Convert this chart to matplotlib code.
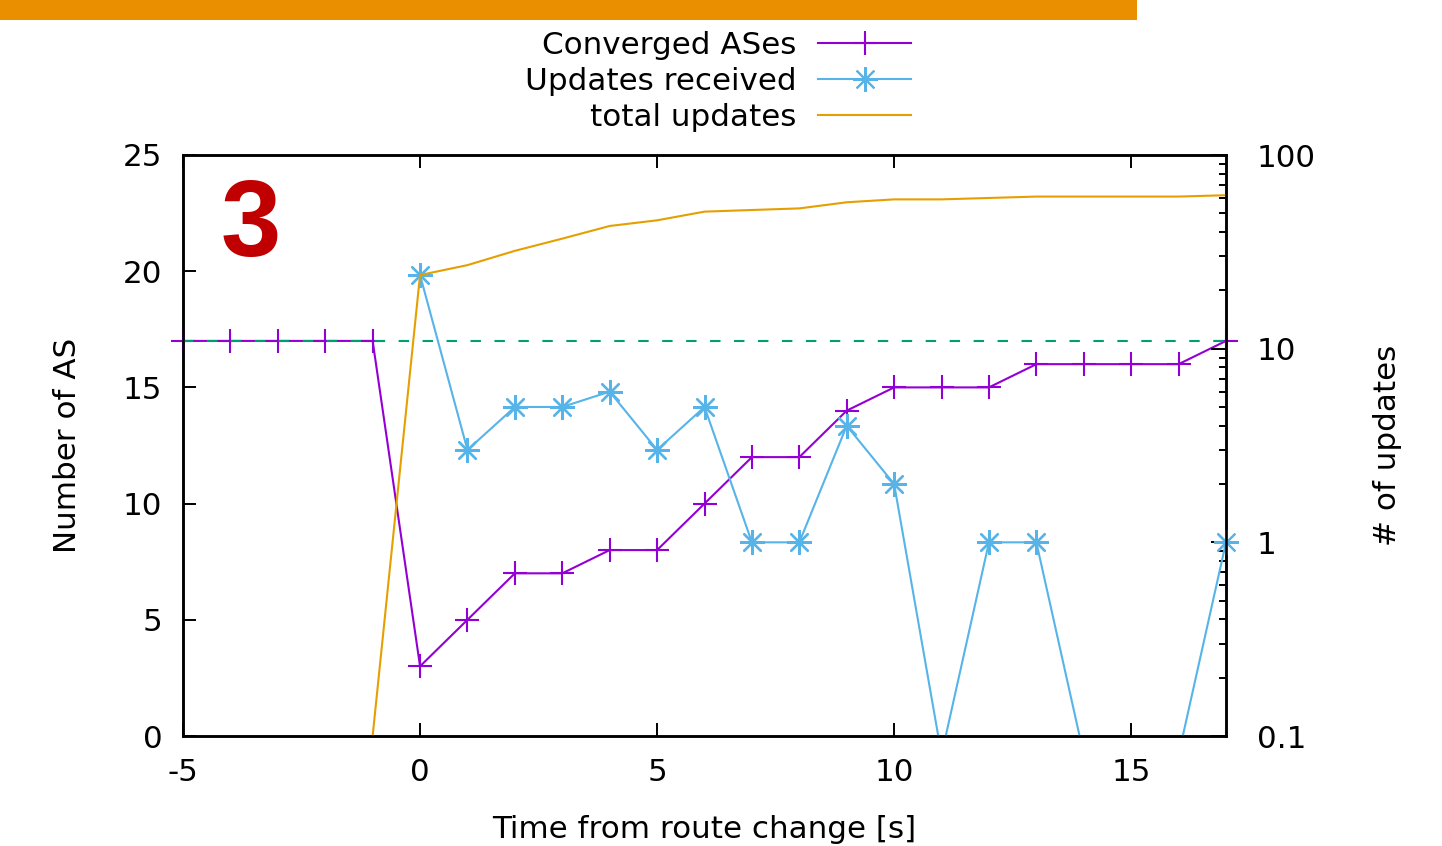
import matplotlib
matplotlib.use("Agg")
import matplotlib.pyplot as plt
from matplotlib.patches import Rectangle
from matplotlib.ticker import LogLocator, NullFormatter
import numpy as np

# data
t_conv = [-5, -4, -3, -2, -1, 0, 1, 2, 3, 4, 5, 6, 7, 8, 9, 10, 11, 12, 13, 14, 15, 16, 17]
converged = [17, 17, 17, 17, 17, 3, 5, 7, 7, 8, 8, 10, 12, 12, 14, 15, 15, 15, 16, 16, 16, 16, 17]

t_upd = [0, 1, 2, 3, 4, 5, 6, 7, 8, 9, 10, 11, 12, 13, 14, 15, 16, 17]
# values below 0.1 (zero updates) fall out of the log axis
updates = [24, 3, 5, 5, 6, 3, 5, 1, 1, 4, 2, 0.08, 1, 1, 0.08, 0.08, 0.08, 1]

t_total = [-1, 0, 1, 2, 3, 4, 5, 6, 7, 8, 9, 10, 11, 12, 13, 14, 15, 16, 17]
total = [0.1, 24, 27, 32, 37, 43, 46, 51, 52, 53, 57, 59, 59, 60, 61, 61, 61, 61, 62]

total_as = 17
xticks = [-5, 0, 5, 10, 15]
yticks = [0, 5, 10, 15, 20, 25]
y2ticks = [0.1, 1, 10, 100]
y2labels = ["0.1", "1", "10", "100"]

PURPLE = "#9400d3"
BLUE = "#56b4e9"
ORANGE = "#e69f00"
GREEN = "#009e73"

plt.rcParams["font.family"] = ["DejaVu Sans"]
plt.rcParams["font.size"] = 22.3
plt.rcParams["axes.unicode_minus"] = False

W, H = 1442, 846
fig = plt.figure(figsize=(W / 100, H / 100), dpi=100)
ax = fig.add_axes([183 / W, (H - 736) / H, 1043 / W, 581 / H])
ax2 = ax.twinx()

# converged ASes (left axis)
ax.plot(t_conv, converged, color=PURPLE, lw=1.5, marker="+", ms=17, mew=1.5,
        clip_on=False, zorder=3, label="Converged ASes")
ax.axhline(total_as, color=GREEN, lw=1.5, dashes=(5, 6.5), zorder=4)

# updates (right log axis)
ln_upd, = ax2.plot(t_upd, updates, color=BLUE, lw=1.5, marker=(8, 2, 0), ms=18, mew=1.5,
                   label="Updates received")
ax2.plot(t_upd, np.ma.masked_less(updates, 0.1), ls="none", color=BLUE,
         marker=(8, 2, 0), ms=18, mew=1.5, clip_on=False)
ln_tot, = ax2.plot(t_total, total, color=ORANGE, lw=1.5, label="total updates")

ax.set_xlim(-5, 17)
ax.set_ylim(0, 25)
ax2.set_yscale("log")
ax2.set_ylim(0.1, 100)

for spine in list(ax.spines.values()) + list(ax2.spines.values()):
    spine.set_linewidth(1.8)

ax.set_xticks(xticks)
ax.set_yticks(yticks)
ax.tick_params(axis="both", direction="in", length=9.5, width=1.4)
ax.tick_params(axis="x", top=True, pad=16)
ax.tick_params(axis="y", right=False, pad=15)

ax2.set_yticks(y2ticks, labels=y2labels)
ax2.yaxis.set_minor_locator(LogLocator(base=10, subs=np.arange(2, 10)))
ax2.yaxis.set_minor_formatter(NullFormatter())
ax2.tick_params(axis="y", which="major", direction="in", length=10.5, width=1.4, pad=22)
ax2.tick_params(axis="y", which="minor", direction="in", length=5, width=1.4)

ax.set_xlabel("Time from route change [s]", va="center")
ax.xaxis.set_label_coords(0.5, (736 - 829) / 581)
ax.set_ylabel("Number of AS", va="center")
ax.yaxis.set_label_coords((68 - 183) / 1043, 0.5)
ax2.set_ylabel("# of updates", va="center", rotation=90)
ax2.yaxis.set_label_coords((1387 - 183) / 1043, 0.5)

handles = [ax.get_lines()[0], ln_upd, ln_tot]
fig.legend(handles, [h.get_label() for h in handles], loc="upper right",
           bbox_to_anchor=(911 / W, 1 - 31 / H), frameon=False, markerfirst=False,
           handlelength=3.0, handletextpad=0.7, labelspacing=0.23,
           borderpad=0, borderaxespad=0, numpoints=1)

# header bar and panel number
fig.add_artist(Rectangle((0, 1 - 20 / H), 1137 / W, 20 / H, transform=fig.transFigure,
                         color="#e98f00", lw=0))
fig.text(251 / W, 1 - 256 / H, "3", color="#c00000", fontsize=78, fontweight="bold",
         family="Liberation Sans", ha="center", va="baseline")

fig.savefig("out.png", dpi=100)
plt.close(fig)
